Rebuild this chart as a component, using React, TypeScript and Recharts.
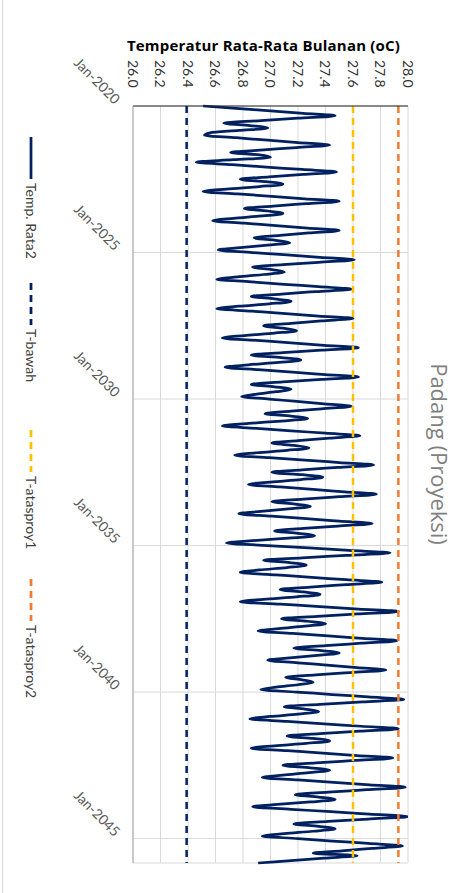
import { LineChart, Line, XAxis, YAxis, CartesianGrid, Legend } from 'recharts'

// monthly mean temperature (oC), one row per year, Jan..Dec (2045 ends in Nov)
const tempByYear: number[][] = [
  [26.51, 26.75, 27.0, 27.24, 27.47, 27.2, 26.93, 26.66, 26.85, 26.98, 26.77, 26.56],
  [26.52, 26.75, 26.98, 27.2, 27.43, 27.19, 26.95, 26.71, 26.92, 27.0, 26.73, 26.46],
  [26.72, 26.97, 27.23, 27.48, 27.24, 26.99, 26.78, 26.97, 27.09, 26.92, 26.68, 26.51],
  [26.76, 27.01, 27.25, 27.5, 27.26, 27.02, 26.81, 26.98, 27.09, 26.94, 26.73, 26.58],
  [26.81, 27.04, 27.27, 27.5, 27.28, 27.07, 26.88, 27.04, 27.14, 26.98, 26.78, 26.62],
  [26.87, 27.12, 27.36, 27.61, 27.35, 27.09, 26.87, 27.01, 27.1, 26.95, 26.76, 26.61],
  [26.86, 27.1, 27.35, 27.59, 27.33, 27.08, 26.86, 27.03, 27.15, 26.99, 26.77, 26.61],
  [26.86, 27.11, 27.35, 27.6, 27.37, 27.15, 26.95, 27.09, 27.19, 27.03, 26.81, 26.65],
  [26.9, 27.15, 27.39, 27.64, 27.37, 27.09, 26.86, 27.08, 27.22, 27.06, 26.84, 26.67],
  [26.91, 27.16, 27.4, 27.64, 27.37, 27.09, 26.86, 27.03, 27.15, 27.04, 26.9, 26.79],
  [26.99, 27.19, 27.39, 27.59, 27.37, 27.15, 26.96, 27.15, 27.27, 27.08, 26.84, 26.65],
  [26.9, 27.15, 27.4, 27.65, 27.43, 27.2, 27.01, 27.17, 27.28, 27.12, 26.9, 26.74],
  [26.99, 27.25, 27.5, 27.75, 27.49, 27.23, 27.01, 27.23, 27.38, 27.22, 27.0, 26.84],
  [27.07, 27.31, 27.54, 27.77, 27.5, 27.24, 27.01, 27.18, 27.29, 27.13, 26.93, 26.77],
  [27.01, 27.26, 27.5, 27.74, 27.49, 27.24, 27.03, 27.2, 27.32, 27.13, 26.87, 26.68],
  [26.98, 27.28, 27.57, 27.87, 27.55, 27.23, 26.95, 27.14, 27.26, 27.12, 26.92, 26.78],
  [27.04, 27.3, 27.55, 27.81, 27.55, 27.29, 27.07, 27.24, 27.36, 27.19, 26.95, 26.78],
  [27.07, 27.36, 27.64, 27.93, 27.63, 27.34, 27.08, 27.27, 27.4, 27.25, 27.06, 26.91],
  [27.16, 27.42, 27.67, 27.92, 27.66, 27.4, 27.17, 27.37, 27.5, 27.34, 27.14, 26.98],
  [27.2, 27.41, 27.63, 27.84, 27.58, 27.33, 27.11, 27.23, 27.31, 27.2, 27.04, 26.93],
  [27.19, 27.45, 27.71, 27.97, 27.67, 27.36, 27.1, 27.25, 27.35, 27.2, 27.0, 26.85],
  [27.12, 27.39, 27.66, 27.93, 27.65, 27.36, 27.12, 27.31, 27.43, 27.26, 27.03, 26.86],
  [27.12, 27.38, 27.63, 27.89, 27.61, 27.33, 27.09, 27.29, 27.43, 27.28, 27.09, 26.94],
  [27.2, 27.46, 27.72, 27.98, 27.7, 27.42, 27.18, 27.35, 27.47, 27.29, 27.05, 26.87],
  [27.15, 27.44, 27.72, 28.0, 27.71, 27.42, 27.17, 27.35, 27.47, 27.31, 27.1, 26.94],
  [27.2, 27.45, 27.71, 27.96, 27.74, 27.52, 27.31, 27.63, 27.39, 27.15, 26.91],
]

// threshold lines
const tBawah = 26.39
const tAtasProy1 = 27.6
const tAtasProy2 = 27.93

const seriesNames = ['Temp. Rata2', 'T-bawah', 'T-atasproy1', 'T-atasproy2']
const tempTicks = [26.0, 26.2, 26.4, 26.6, 26.8, 27.0, 27.2, 27.4, 27.6, 27.8, 28.0]
const dateTicks = [0, 60, 120, 180, 240, 300]
const dateTickLabels = ['Jan-2020', 'Jan-2025', 'Jan-2030', 'Jan-2035', 'Jan-2040', 'Jan-2045']

const chartRows = tempByYear.flat().map((t, i) => ({
  idx: i,
  temp: t,
  bawah: tBawah,
  atas1: tAtasProy1,
  atas2: tAtasProy2,
}))

const W = 475
const H = 893
const FONT = 'Lato, "Open Sans", sans-serif'

function TempTick({ x, payload }: any) {
  return (
    <text
      transform={`translate(${x},60) rotate(90)`}
      textAnchor="start"
      dominantBaseline="central"
      fontSize={14}
      fontFamily={FONT}
      fill="#333"
    >
      {Number(payload.value).toFixed(1)}
    </text>
  )
}

function DateTick({ y, payload }: any) {
  const i = dateTicks.indexOf(payload.value)
  return (
    <text
      transform={`translate(118,${y - 5}) rotate(45)`}
      textAnchor="end"
      dominantBaseline="central"
      fontSize={14}
      fontFamily={FONT}
      fill="#595959"
    >
      {dateTickLabels[i]}
    </text>
  )
}

const legendTops = [137, 283, 430, 579]

function renderLegend({ payload }: any) {
  const items = seriesNames
    .map((n) => (payload || []).find((p: any) => p.value === n))
    .filter(Boolean)
  return (
    <svg width={60} height={H}>
      {items.map((p: any, i: number) => {
        const y0 = legendTops[i]
        return (
          <g key={p.value}>
            <line
              x1={31}
              x2={31}
              y1={y0}
              y2={y0 + 42}
              stroke={p.color}
              strokeWidth={2.75}
              strokeDasharray={p.payload?.strokeDasharray}
            />
            <text
              transform={`translate(31,${y0 + 46}) rotate(90)`}
              dominantBaseline="central"
              fontSize={14}
              fontFamily={FONT}
              fill="#404040"
            >
              {p.value}
            </text>
          </g>
        )
      })}
    </svg>
  )
}

export default function App() {
  return (
    <div style={{ position: 'absolute', left: 0, top: 0, width: W, height: H, background: '#fff' }}>
      <div style={{ position: 'absolute', left: 2, top: 0, width: 1, height: H, background: '#d9d9d9' }} />
      <LineChart
        layout="vertical"
        width={W}
        height={H}
        data={chartRows}
        margin={{ top: 76, left: 73, right: 67, bottom: 30 }}
      >
        <CartesianGrid stroke="#d9d9d9" />
        <XAxis
          type="number"
          orientation="top"
          domain={[26, 28]}
          ticks={tempTicks}
          interval={0}
          allowDataOverflow
          height={30}
          axisLine={{ stroke: '#262626' }}
          tickLine={false}
          tick={<TempTick />}
        />
        <YAxis
          type="number"
          dataKey="idx"
          domain={[0, 310]}
          ticks={dateTicks}
          interval={0}
          width={60}
          axisLine={{ stroke: '#a6a6a6' }}
          tickLine={false}
          tick={<DateTick />}
        />
        <Line
          dataKey="temp"
          name={seriesNames[0]}
          type="monotone"
          stroke="#002060"
          strokeWidth={2.75}
          strokeLinejoin="round"
          dot={false}
          isAnimationActive={false}
        />
        <Line
          dataKey="bawah"
          name={seriesNames[1]}
          stroke="#002060"
          strokeWidth={2.5}
          strokeDasharray="7 5"
          dot={false}
          isAnimationActive={false}
        />
        <Line
          dataKey="atas1"
          name={seriesNames[2]}
          stroke="#ffc000"
          strokeWidth={2.5}
          strokeDasharray="7 5"
          dot={false}
          isAnimationActive={false}
        />
        <Line
          dataKey="atas2"
          name={seriesNames[3]}
          stroke="#ed7d31"
          strokeWidth={2.5}
          strokeDasharray="7 5"
          dot={false}
          isAnimationActive={false}
        />
        <Legend
          layout="horizontal"
          align="center"
          verticalAlign="middle"
          content={renderLegend}
          wrapperStyle={{ left: 0, top: 0, width: 60, height: H }}
        />
      </LineChart>
      <div
        style={{
          position: 'absolute',
          left: 0,
          width: W,
          top: 35,
          textAlign: 'center',
          paddingLeft: 52,
          boxSizing: 'border-box',
          font: '700 15px "Open Sans", sans-serif',
          letterSpacing: 0.2,
          color: '#000',
        }}
      >
        Temperatur Rata-Rata Bulanan (oC)
      </div>
      <div
        style={{
          position: 'absolute',
          left: 440,
          top: 454,
          transform: 'translate(-50%, -50%) rotate(90deg)',
          whiteSpace: 'nowrap',
          font: '400 22px "Open Sans", sans-serif',
          color: '#7f7f7f',
        }}
      >
        Padang (Proyeksi)
      </div>
    </div>
  )
}
